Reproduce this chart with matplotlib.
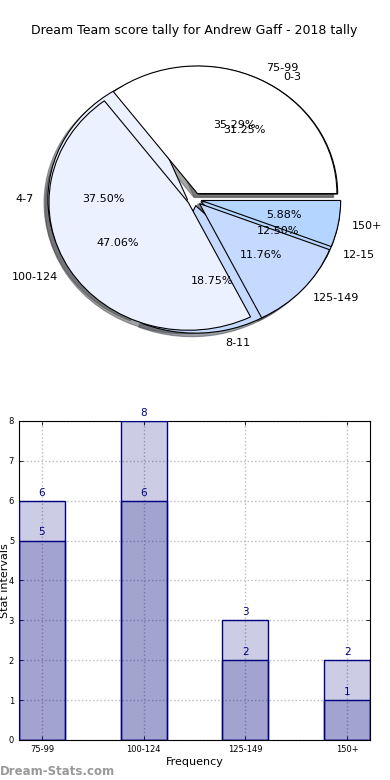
import matplotlib
matplotlib.use('Agg')
from matplotlib import pyplot as plt

# pie data (score tally per stat interval)
score_labels = ['75-99', '100-124', '125-149', '150+']
score_counts = [6, 8, 2, 1]
tally_labels = ['0-3', '4-7', '8-11', '12-15']
tally_counts = [5, 6, 3, 2]

# bar data
bar_categories = ['75-99', '100-124', '125-149', '150+']
bar_front = [5, 6, 2, 1]
bar_back = [6, 8, 3, 2]

pie_colors = ['#ffffff', '#ebf1ff', '#c6d9ff', '#b3d5ff']
navy = '#000080'

fig = plt.figure(figsize=(3.9, 7.8), dpi=100)

# ---- pie ----
ax_pie = fig.add_axes([0.0513, 0.540, 0.894, 0.409])
wp = dict(edgecolor='black', linewidth=0.8)
ax_pie.pie(tally_counts, labels=tally_labels, colors=pie_colors,
           explode=[0.05] * 4, shadow=True, autopct='%.2f%%',
           wedgeprops=wp, textprops=dict(fontsize=8))
ax_pie.pie(score_counts, labels=score_labels, colors=pie_colors,
           explode=[0.05] * 4, shadow=True, autopct='%.2f%%',
           wedgeprops=wp, textprops=dict(fontsize=8))
ax_pie.set_aspect('auto')
ax_pie.set_xlim(-1.25, 1.25)
ax_pie.set_ylim(-1.25, 1.25)
ax_pie.set_title('Dream Team score tally for Andrew Gaff - 2018 tally', fontsize=9, pad=4)

# ---- bars ----
ax_bar = fig.add_axes([0.0487, 0.0513, 0.9, 0.409])
xs = list(range(len(bar_categories)))
ax_bar.bar(xs, bar_back, width=0.45, color=navy, alpha=0.2, zorder=2)
ax_bar.bar(xs, bar_back, width=0.45, fill=False, edgecolor=navy, linewidth=1, zorder=3)
ax_bar.bar(xs, bar_front, width=0.45, color=navy, alpha=0.2, zorder=2)
ax_bar.bar(xs, bar_front, width=0.45, fill=False, edgecolor=navy, linewidth=1, zorder=3)

for x, v in zip(xs, bar_back):
    ax_bar.text(x, v + 0.08, str(v), ha='center', va='bottom', color=navy, fontsize=7.5)
for x, v in zip(xs, bar_front):
    ax_bar.text(x, v + 0.08, str(v), ha='center', va='bottom', color=navy, fontsize=7.5)

ax_bar.set_xlim(-0.225, 3.225)
ax_bar.set_ylim(0, 8)
ax_bar.set_xticks(xs)
ax_bar.set_xticklabels(bar_categories)
ax_bar.set_yticks(range(9))
ax_bar.tick_params(direction='in', top=True, right=True, labelsize=6, length=3, width=0.6)
ax_bar.grid(True, linestyle=':', color='#bbbbbb', linewidth=1, zorder=1)
ax_bar.set_axisbelow(True)
ax_bar.set_xlabel('Frequency', fontsize=8, labelpad=2)
ax_bar.set_ylabel('Stat intervals', fontsize=8)
ax_bar.yaxis.set_label_coords(-0.027, 0.5)

fig.text(0.0, 0.003, 'Dream-Stats.com', color='#999999', fontsize=8.5, fontweight='bold', ha='left', va='bottom')

fig.savefig('out.png', dpi=100)
